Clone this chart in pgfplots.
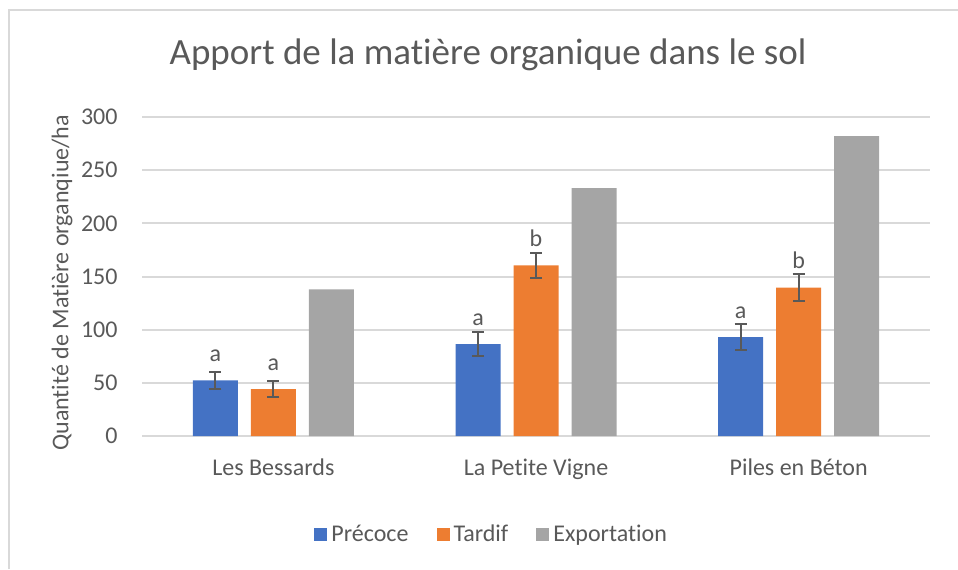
\documentclass[border=0pt]{standalone}
\usepackage{fontspec}
\setmainfont{Carlito}[Ligatures=NoCommon]
\usepackage{pgfplots}
\usepackage{pgfplotstable}
\pgfplotsset{compat=1.18}

\definecolor{cblue}{HTML}{4472C4}
\definecolor{corange}{HTML}{ED7D31}
\definecolor{cgray}{HTML}{A5A5A5}
\definecolor{gridgray}{HTML}{D9D9D9}
\definecolor{textgray}{HTML}{595959}

% x = site, y = quantity, err = error bar, lab = letter above the bar
\pgfplotstableread{
x y err lab
0 52.2 7.8 a
1 86.5 11.7 a
2 93.1 12.6 a
}\precoce
\pgfplotstableread{
x y err lab
0 44.0 7.6 a
1 160.4 11.7 b
2 139.6 12.7 b
}\tardif
\pgfplotstableread{
x y
0 138
1 233
2 282
}\export

\begin{document}
\begin{tikzpicture}[x=0.5pt,y=0.5pt]
\path[use as bounding box] (0,0) rectangle (958,569);
\draw[line width=1pt, draw=gridgray] (8.5,0) -- (8.5,558.5) -- (958,558.5);
\node[font=\fontsize{18.5}{22}\selectfont, text=textgray] at (488,514) {Apport de la matière organique dans le sol};
\begin{axis}[
    at={(71pt,66.5pt)}, anchor=south west,
    scale only axis, width=394pt, height=159.5pt,
    ybar=6.5pt, bar width=22.5pt,
    xmin=-0.5, xmax=2.5, ymin=0, ymax=300,
    xtick={0,1,2},
    xticklabels={Les Bessards, La Petite Vigne, Piles en Béton},
    ytick={0,50,...,300},
    major tick length=0pt,
    axis line style={draw=none},
    ymajorgrids, grid style={draw=gridgray, line width=1pt},
    tick label style={font=\fontsize{12}{14}\selectfont, text=textgray},
    /pgf/number format/assume math mode=true,
    xticklabel style={anchor=base, yshift=-19.5pt},
    yticklabel style={xshift=-8.7pt},
    ylabel={Quantité de Matière organqiue/ha},
    ylabel style={at={(axis description cs:-0.1015,0.48)}, anchor=center,
        font=\fontsize{12}{14}\selectfont, text=textgray},
    legend columns=-1,
    legend style={draw=none, at={(0.445,-0.31)}, anchor=center,
        font=\fontsize{12}{14}\selectfont, text=textgray,
        /tikz/every even column/.append style={column sep=12pt}},
    legend image code/.code={\fill[#1] (0pt,-3.25pt) rectangle (6.5pt,3.25pt);},
    error bars/error bar style={line width=1pt, draw=textgray},
    error bars/error mark options={rotate=90, mark size=3pt, line width=1pt, draw=textgray},
]
\addplot[fill=cblue, draw=none, nodes near coords, point meta=explicit symbolic,
    every node near coord/.append style={font=\fontsize{12}{14}\selectfont, text=textgray, inner sep=0pt, anchor=south, yshift=9pt},
    error bars/.cd, y dir=both, y explicit]
    table[x=x, y=y, y error=err, meta=lab] {\precoce};
\addplot[fill=corange, draw=none, nodes near coords, point meta=explicit symbolic,
    every node near coord/.append style={font=\fontsize{12}{14}\selectfont, text=textgray, inner sep=0pt, anchor=south, yshift=9pt},
    error bars/.cd, y dir=both, y explicit]
    table[x=x, y=y, y error=err, meta=lab] {\tardif};
\addplot[fill=cgray, draw=none] table[x=x, y=y] {\export};
\legend{Précoce, Tardif, Exportation}
\end{axis}
\end{tikzpicture}
\end{document}
